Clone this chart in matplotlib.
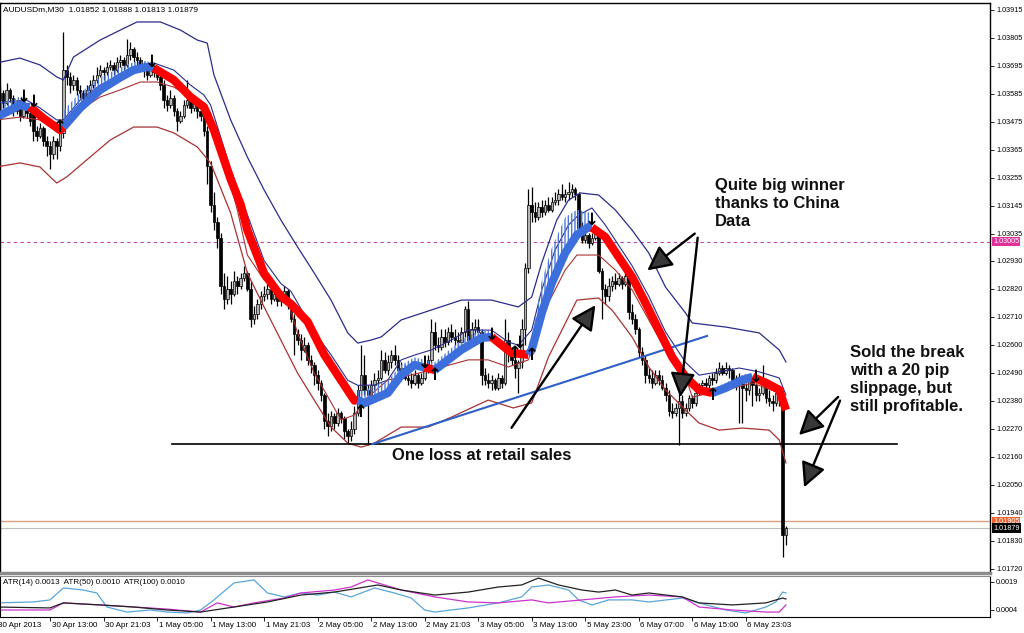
import numpy as np
import matplotlib.pyplot as plt
from matplotlib.transforms import blended_transform_factory

plt.rcParams['font.family'] = ['Liberation Sans', 'DejaVu Sans']
plt.rcParams['hatch.linewidth'] = 1.0

# AUDUSDm M30 candles, prices in points above 1.00000 (3560 -> 1.03560)
opens = [3540, 3560, 3590, 3550, 3600, 3570, 3520, 3545, 3500, 3530,
         3510, 3530, 3440, 3420, 3450, 3400, 3380, 3350, 3400, 3380,
         3430, 3680, 3650, 3620, 3640, 3600, 3590, 3570, 3600, 3620,
         3640, 3660, 3680, 3670, 3690, 3700, 3680, 3710, 3720, 3700,
         3740, 3760, 3730, 3720, 3700, 3680, 3660, 3690, 3670, 3650,
         3620, 3560, 3540, 3570, 3520, 3480, 3500, 3540, 3560, 3530,
         3550, 3520, 3500, 3440, 3300, 3150, 3080, 3020, 2830, 2780,
         2820, 2800, 2850, 2830, 2860, 2880, 2820, 2700, 2720, 2760,
         2790, 2800, 2820, 2780, 2800, 2770, 2790, 2810, 2760, 2700,
         2640, 2620, 2580, 2600, 2540, 2520, 2480, 2450, 2400, 2300,
         2280, 2320, 2290, 2330, 2310, 2260, 2240, 2270, 2330, 2420,
         2480, 2420, 2400, 2440, 2460, 2470, 2540, 2500, 2530, 2560,
         2540, 2500, 2510, 2470, 2460, 2450, 2480, 2450, 2470, 2500,
         2540, 2650, 2600, 2590, 2630, 2610, 2650, 2630, 2620, 2610,
         2650, 2740, 2620, 2660, 2670, 2650, 2480, 2460, 2450, 2460,
         2430, 2470, 2450, 2620, 2570, 2540, 2510, 2530, 2660, 2900,
         3150, 3120, 3100, 3140, 3120, 3150, 3130, 3160, 3170, 3190,
         3180, 3190, 3200, 3210, 3190, 3060, 3010, 3030, 3000, 3020,
         3050, 2890, 2820, 2790, 2830, 2850, 2840, 2860, 2840, 2870,
         2730, 2700, 2660, 2570, 2540, 2480, 2470, 2450, 2480, 2460,
         2430, 2400, 2340, 2330, 2350, 2380, 2330, 2350, 2390, 2370,
         2410, 2440, 2450, 2440, 2470, 2460, 2490, 2510, 2490, 2510,
         2500, 2460, 2450, 2470, 2430, 2420, 2460, 2440, 2400, 2410,
         2440, 2390, 2380, 2370, 2410, 2390, 1852]
highs = [3600, 3620, 3600, 3630, 3610, 3580, 3560, 3555, 3550, 3540,
         3520, 3545, 3460, 3470, 3460, 3420, 3400, 3420, 3410, 3460,
         3830, 3700, 3670, 3660, 3650, 3620, 3600, 3620, 3640, 3660,
         3690, 3700, 3690, 3710, 3720, 3710, 3730, 3740, 3730, 3800,
         3790, 3770, 3750, 3730, 3710, 3700, 3710, 3700, 3690, 3660,
         3640, 3580, 3600, 3580, 3530, 3520, 3560, 3640, 3580, 3580,
         3570, 3540, 3510, 3460, 3320, 3200, 3100, 3040, 2880, 2870,
         2850, 2890, 2870, 2880, 2910, 2890, 2850, 2750, 2780, 2810,
         2830, 2840, 2850, 2820, 2810, 2810, 2830, 2820, 2770, 2720,
         2660, 2640, 2630, 2610, 2560, 2530, 2500, 2460, 2410, 2330,
         2340, 2330, 2350, 2340, 2320, 2270, 2300, 2360, 2440, 2600,
         2560, 2440, 2460, 2490, 2500, 2580, 2570, 2560, 2580, 2600,
         2560, 2530, 2520, 2500, 2490, 2500, 2490, 2490, 2520, 2560,
         2700, 2690, 2630, 2660, 2660, 2670, 2680, 2660, 2650, 2670,
         2750, 2770, 2690, 2700, 2700, 2660, 2510, 2490, 2480, 2470,
         2490, 2480, 2700, 2650, 2590, 2560, 2540, 2700, 2920, 3210,
         3220, 3160, 3160, 3170, 3170, 3180, 3180, 3200, 3210, 3230,
         3210, 3240, 3230, 3220, 3200, 3080, 3050, 3040, 3040, 3070,
         3060, 2900, 2840, 2860, 2870, 2880, 2880, 2870, 2890, 2880,
         2760, 2720, 2670, 2590, 2560, 2510, 2500, 2500, 2500, 2480,
         2450, 2420, 2370, 2370, 2410, 2400, 2370, 2400, 2400, 2420,
         2450, 2460, 2470, 2480, 2490, 2510, 2530, 2520, 2530, 2520,
         2510, 2480, 2490, 2480, 2450, 2480, 2470, 2450, 2430, 2520,
         2450, 2420, 2400, 2420, 2420, 2400, 1888]
lows = [3520, 3550, 3530, 3540, 3555, 3500, 3505, 3480, 3490, 3490,
        3460, 3400, 3400, 3410, 3380, 3340, 3290, 3330, 3330, 3360,
        3410, 3620, 3590, 3600, 3580, 3570, 3550, 3560, 3590, 3610,
        3630, 3650, 3640, 3660, 3680, 3660, 3670, 3690, 3680, 3690,
        3720, 3710, 3700, 3680, 3650, 3640, 3650, 3650, 3640, 3600,
        3530, 3520, 3530, 3500, 3440, 3470, 3490, 3530, 3510, 3520,
        3490, 3480, 3420, 3230, 3120, 3050, 2980, 2800, 2740, 2760,
        2760, 2790, 2800, 2820, 2850, 2810, 2670, 2680, 2700, 2740,
        2770, 2780, 2760, 2770, 2750, 2750, 2780, 2740, 2690, 2560,
        2600, 2540, 2570, 2520, 2490, 2440, 2420, 2380, 2270, 2240,
        2260, 2270, 2280, 2290, 2230, 2215, 2220, 2250, 2320, 2400,
        2400, 2205, 2380, 2420, 2440, 2460, 2490, 2480, 2510, 2520,
        2480, 2470, 2460, 2440, 2430, 2440, 2430, 2440, 2460, 2490,
        2530, 2580, 2570, 2580, 2590, 2600, 2610, 2600, 2590, 2600,
        2630, 2600, 2610, 2640, 2630, 2440, 2440, 2430, 2420, 2420,
        2420, 2430, 2440, 2530, 2520, 2470, 2410, 2510, 2600, 2880,
        3080, 3080, 3090, 3100, 3110, 3120, 3120, 3150, 3150, 3170,
        3160, 3170, 3180, 3170, 3040, 3000, 3000, 2980, 2990, 3010,
        2880, 2700, 2760, 2770, 2810, 2820, 2830, 2820, 2830, 2700,
        2680, 2640, 2550, 2520, 2450, 2450, 2430, 2440, 2440, 2420,
        2380, 2320, 2310, 2320, 2205, 2310, 2320, 2340, 2350, 2360,
        2400, 2420, 2420, 2430, 2440, 2450, 2480, 2480, 2480, 2470,
        2450, 2420, 2290, 2290, 2380, 2400, 2360, 2380, 2380, 2400,
        2370, 2360, 2340, 2360, 2360, 1765, 1813]
closes = [3560, 3590, 3550, 3600, 3570, 3520, 3545, 3500, 3530, 3510,
          3480, 3440, 3420, 3450, 3400, 3380, 3350, 3400, 3380, 3430,
          3680, 3650, 3620, 3640, 3600, 3590, 3570, 3600, 3620, 3640,
          3660, 3680, 3670, 3690, 3700, 3680, 3710, 3720, 3700, 3740,
          3760, 3730, 3720, 3700, 3680, 3660, 3690, 3670, 3650, 3620,
          3560, 3540, 3570, 3520, 3480, 3500, 3540, 3560, 3530, 3550,
          3520, 3500, 3440, 3300, 3150, 3080, 3020, 2830, 2780, 2820,
          2800, 2850, 2830, 2860, 2880, 2820, 2700, 2720, 2760, 2790,
          2800, 2820, 2780, 2800, 2770, 2790, 2810, 2760, 2700, 2640,
          2620, 2580, 2600, 2540, 2520, 2480, 2450, 2400, 2300, 2280,
          2320, 2290, 2330, 2310, 2260, 2240, 2270, 2330, 2420, 2480,
          2420, 2400, 2440, 2460, 2470, 2540, 2500, 2530, 2560, 2540,
          2500, 2510, 2470, 2460, 2450, 2480, 2450, 2470, 2500, 2540,
          2650, 2600, 2590, 2630, 2610, 2650, 2630, 2620, 2610, 2650,
          2740, 2620, 2660, 2670, 2650, 2480, 2460, 2450, 2460, 2430,
          2470, 2450, 2620, 2570, 2540, 2510, 2530, 2660, 2900, 3150,
          3120, 3100, 3140, 3120, 3150, 3130, 3160, 3170, 3190, 3180,
          3190, 3200, 3210, 3190, 3060, 3010, 3030, 3000, 3020, 3040,
          2890, 2820, 2790, 2830, 2850, 2840, 2860, 2840, 2870, 2730,
          2700, 2660, 2570, 2540, 2480, 2470, 2450, 2480, 2460, 2430,
          2400, 2340, 2330, 2350, 2380, 2330, 2350, 2390, 2370, 2410,
          2440, 2450, 2440, 2470, 2460, 2490, 2510, 2490, 2510, 2500,
          2460, 2450, 2470, 2430, 2420, 2460, 2440, 2400, 2410, 2440,
          2390, 2380, 2370, 2410, 2390, 1852, 1879]

# envelope / band lines (bar index, points)
upper_bars = [0, 7, 13, 18, 20, 23, 31, 37, 42, 49, 55, 60, 63, 65, 70, 75, 80, 85, 90, 95,
              100, 105, 108, 112, 115, 121, 130, 139, 148, 156, 160, 163, 167.5, 171, 174.5,
              180, 185, 190, 195, 200, 206, 208, 218, 228, 234, 236]
upper = [3707, 3726, 3699, 3652, 3640, 3730, 3797, 3836, 3868, 3868, 3836, 3797, 3785, 3660,
         3483, 3337, 3208, 3090, 2984, 2881, 2775, 2646, 2606, 2618, 2630, 2697, 2736, 2775,
         2775, 2748, 2787, 2921, 3090, 3168, 3196, 3188, 3129, 3050, 2960, 2826, 2724, 2685,
         2669, 2646, 2579, 2532]
in_up_bars = [0, 9, 13, 18, 20, 25, 31, 37, 43, 47, 53, 58, 62, 64, 70, 75, 80, 85, 88, 95,
              100, 105, 108, 113, 117, 121, 125, 130, 136, 141, 148, 153, 156, 160, 163, 167,
              171, 174, 178, 182, 186, 190, 195, 200, 206, 210, 216, 222, 228, 234, 236]
in_up = [3550, 3561, 3530, 3483, 3483, 3561, 3620, 3660, 3699, 3707, 3679, 3620, 3581, 3542,
         3290, 3110, 2930, 2840, 2810, 2650, 2560, 2460, 2440, 2441, 2461, 2540, 2559, 2579,
         2618, 2657, 2657, 2610, 2598, 2657, 2815, 2972, 3070, 3109, 3137, 3070, 2990, 2910,
         2790, 2650, 2530, 2480, 2493, 2508, 2493, 2469, 2402]
lo_in_bars = [0, 7, 13, 18, 21, 25, 31, 37, 43, 48, 53, 58, 62, 64, 68, 72, 75, 80, 87, 90,
              95, 103, 107, 110, 117, 124, 130, 141, 147, 153, 159, 165, 170, 173.5, 180, 185,
              190, 195, 200, 206, 208, 218, 226, 234, 236]
lo_in = [3483, 3494, 3483, 3443, 3483, 3522, 3573, 3601, 3632, 3632, 3612, 3573, 3550, 3510,
         3326, 3129, 2952, 2854, 2775, 2646, 2488, 2304, 2323, 2382, 2461, 2481, 2500, 2540,
         2540, 2512, 2540, 2764, 2893, 2952, 2952, 2893, 2815, 2697, 2579, 2473, 2394, 2422,
         2449, 2410, 2355]
lo_out_bars = [0, 7, 13, 17, 18, 21, 27, 34, 41, 48, 53, 60, 64, 70, 75, 80, 85, 90, 95, 100,
               105, 109, 113, 121, 129, 136, 147, 154.5, 160, 165, 173.5, 180, 184, 190, 195,
               200, 206, 210, 216, 223, 231, 234, 236]
lo_out = [3298, 3314, 3298, 3247, 3235, 3259, 3326, 3404, 3455, 3455, 3432, 3377, 3314, 3117,
          2881, 2748, 2618, 2488, 2382, 2276, 2213, 2197, 2213, 2276, 2276, 2315, 2382, 2351,
          2371, 2551, 2775, 2783, 2736, 2630, 2512, 2422, 2343, 2292, 2264, 2272, 2264, 2225,
          2135]

# thick trend MA and its histogram top
ma_bars = [0, 4, 7, 9, 10, 14, 19, 20, 25, 31, 37, 41, 45, 47, 53, 58, 62, 65, 70, 73,
           75, 80, 85, 88, 93, 98, 103, 107, 108, 110, 117, 121, 125, 128, 131, 139, 145, 148,
           154, 159, 160, 163, 166, 170, 173.5, 177, 178, 182, 186, 190, 194, 198, 202, 206,
           210, 214, 218, 222, 224, 226, 230, 234, 236]
ma = [3494, 3520, 3542, 3534, 3534, 3490, 3443, 3455, 3530, 3601, 3650, 3679, 3691, 3687,
      3640, 3573, 3534, 3443, 3250, 3150, 3050, 2880, 2790, 2760, 2690, 2560, 2460, 2380,
      2382, 2370, 2410, 2480, 2520, 2510, 2500, 2580, 2626, 2630, 2567, 2560, 2580, 2724,
      2842, 2960, 3031, 3062, 3060, 3023, 2944, 2866, 2764, 2657, 2551, 2473, 2422, 2410,
      2430, 2455, 2465, 2473, 2450, 2422, 2343]
nan = np.nan
hist_top = [3550, 3560, 3575, 3570, nan, nan, nan, 3520, 3590, 3650,
            3690, 3710, 3715, 3700, nan, nan, nan, nan, nan, nan,
            nan, nan, nan, nan, nan, nan, nan, nan, 2420, 2420,
            2460, 2520, 2550, 2540, 2530, 2620, 2660, 2650, nan, 2590,
            2620, 2850, 2980, 3100, 3130, 3120, 3100, nan, nan, nan,
            nan, nan, nan, nan, nan, 2425, 2450, 2475, 2485, 2480,
            nan, nan, nan]
trend_flips = [10, 20, 47, 108, 128, 131, 148, 159, 178, 214, 226]  # starts rising

# signal arrows
sig_bars = [8, 11, 19, 46.5, 109, 128, 131, 148, 155, 156.5, 160, 178, 214, 227]
sig_prices = [3573, 3553, 3455, 3711, 2335, 2528, 2481, 2638, 2567, 2606, 2559, 3090, 2402, 2473]
sig_dirs = ['d', 'd', 'u', 'd', 'u', 'd', 'u', 'd', 'u', 'd', 'u', 'd', 'u', 'd']

# ATR values (x 0.0001)
atr14_bars = [0, 11, 16, 20, 26, 30, 33, 39, 46, 51, 57, 61, 65, 71, 77, 81, 86, 91, 96, 101,
              106, 113, 119, 124, 128, 131, 141, 150, 157, 160, 165, 171, 174, 178, 183, 190,
              195, 205, 210, 218, 224, 230, 233, 235, 236]
atr14 = [7.8, 8.3, 9.4, 15.8, 14.7, 13.1, 5.6, 2.9, 4.0, 2.9, 2.4, 4.0, 9.4, 18.5, 20.1, 13.1,
         11.0, 13.1, 12.0, 13.6, 11.0, 15.8, 13.1, 10.4, 4.0, 2.9, 5.1, 7.8, 11.0, 16.3, 17.4,
         14.7, 9.4, 6.7, 9.4, 9.4, 8.3, 10.4, 7.8, 4.0, 2.4, 5.6, 8.3, 13.6, 13.1]
atr50_bars = [0, 16, 20, 31, 41, 51, 61, 66, 71, 77, 86, 91, 101, 106, 111, 116, 121, 131, 141,
              150, 160, 165, 175, 185, 195, 205, 210, 220, 230, 234, 236]
atr50 = [4.0, 4.0, 7.8, 6.7, 5.6, 4.5, 2.9, 7.8, 5.6, 7.8, 10.4, 13.1, 14.7, 16.3, 20.1, 17.4,
         14.7, 11.0, 8.3, 7.8, 9.4, 7.8, 9.4, 11.0, 12.0, 11.0, 5.6, 4.0, 2.9, 2.9, 6.7]
atr100_bars = [0, 16, 20, 31, 41, 51, 61, 71, 81, 91, 101, 114, 121, 131, 141, 150, 157, 162,
               168, 175, 180, 185, 190, 195, 205, 210, 220, 230, 235, 236]
atr100 = [5.6, 5.1, 7.8, 6.7, 5.6, 4.0, 2.9, 5.6, 8.3, 12.0, 13.6, 17.4, 14.7, 12.0, 13.6, 16.3,
          17.4, 21.1, 17.4, 14.7, 13.6, 14.7, 12.0, 13.1, 11.0, 7.8, 6.7, 7.8, 10.4, 9.9]

time_ticks = [0, 16, 32, 48, 64, 80, 96, 112, 128, 144, 160, 176, 192, 208, 224]
time_labels = ['30 Apr 2013', '30 Apr 13:00', '30 Apr 21:03', '1 May 05:00', '1 May 13:00',
               '1 May 21:03', '2 May 05:00', '2 May 13:00', '2 May 21:03', '3 May 05:00',
               '3 May 13:00', '5 May 23:00', '6 May 07:00', '6 May 15:00', '6 May 23:03']
price_ticks = [1.03915, 1.03805, 1.03695, 1.03585, 1.03475, 1.03365, 1.03255, 1.03145, 1.03035,
               1.02930, 1.02820, 1.02710, 1.02600, 1.02490, 1.02380, 1.02270, 1.02160, 1.02050,
               1.01940, 1.01830, 1.01720]


def pr(p):
    return 1 + np.asarray(p, dtype=float) / 1e5


fig = plt.figure(figsize=(10.24, 6.33), dpi=100)
ax = fig.add_axes([0, 1 - 573 / 633, 990 / 1024, 570 / 633])
axa = fig.add_axes([0, 1 - 617 / 633, 990 / 1024, 41 / 633])

o, h, l, c = pr(opens), pr(highs), pr(lows), pr(closes)
x = np.arange(len(c))
ax.vlines(x, l, h, color='black', lw=0.9, zorder=2)
up = c >= o
ax.bar(x[up], (c - o)[up], bottom=o[up], width=0.75, color='#b4b4b4',
       edgecolor='black', lw=0.5, zorder=2)
ax.bar(x[~up], (o - c)[~up], bottom=c[~up], width=0.75, color='black',
       edgecolor='black', lw=0.5, zorder=2)

# bands
ax.plot(upper_bars, pr(upper), color='#2b2b8c', lw=0.9, zorder=3)
ax.plot(in_up_bars, pr(in_up), color='#2b2b8c', lw=0.8, zorder=3)
ax.plot(lo_in_bars, pr(lo_in), color='#a83232', lw=0.8, zorder=3)
ax.plot(lo_out_bars, pr(lo_out), color='#a83232', lw=0.9, zorder=3)

# histogram hatch and trend MA
mb = np.array(ma_bars, dtype=float)
mv = pr(ma)
ht = pr(hist_top)
ok = ~np.isnan(ht)
ax.fill_between(mb, mv, ht, where=ok, facecolor='none', edgecolor='#4f7ad8',
                lw=0, hatch='|||||', zorder=3)
bounds = [0] + trend_flips + [236]
for k in range(len(bounds) - 1):
    m = (mb >= bounds[k]) & (mb <= bounds[k + 1])
    col = '#3d6fdc' if k % 2 == 0 else '#ff0000'
    ax.plot(mb[m], mv[m], color=col, lw=6, solid_capstyle='butt', zorder=4)

for b, p, d in zip(sig_bars, sig_prices, sig_dirs):
    ax.text(b, pr(p), '↓' if d == 'd' else '↑', ha='center', va='center',
            fontsize=12, fontweight='bold', family='DejaVu Sans', zorder=5)

# support / trend lines and price lines
ax.plot([52.5, 269.2], pr([2210, 2210]), color='black', lw=1.2, zorder=3)
ax.plot([112.3, 212.4], pr([2209, 2634]), color='#2f5fc8', lw=1.5, zorder=3)
ax.axhline(1.03005, color='#c040b0', lw=0.8, ls=(0, (3, 3)), zorder=1)
ax.axhline(1.01905, color='#d9a27e', lw=1.0, zorder=1)
ax.axhline(1.01879, color='#bdbdbd', lw=0.8, zorder=1)

# annotations
arrows = [(153.5, 2264, 179.5, 2764), (209.4, 3043, 193.9, 2885), (209.7, 3031, 204.3, 2382),
          (252.2, 2402, 239.3, 2237), (252.5, 2390, 241.1, 2029)]
for x0, p0, x1, p1 in arrows:
    ax.annotate('', xy=(x1, pr(p1)), xytext=(x0, pr(p0)),
                arrowprops=dict(arrowstyle='-|>,head_length=0.75,head_width=0.38',
                                mutation_scale=20, lw=1.7, ec='black', fc='#383838'),
                zorder=6)
tfont = dict(fontsize=12, fontweight='bold', color='#111111', zorder=6, linespacing=1.25)
ax.text(214.8, pr(3255), 'Quite big winner\nthanks to China\nData', ha='left', va='top', **tfont)
ax.text(145.1, pr(2166), 'One loss at retail sales', ha='center', va='center', **tfont)
ax.text(255.2, pr(2600), 'Sold the break\nwith a 20 pip\nslippage, but\nstill profitable.',
        ha='left', va='top', **tfont)
ax.text(0.003, 0.995, 'AUDUSDm,M30  1.01852 1.01888 1.01813 1.01879', transform=ax.transAxes,
        fontsize=6, va='top', ha='left')

# axes styling
ax.set_xlim(1.05, 297.0)
ax.set_ylim(1.017024, 1.039425)
ax.yaxis.tick_right()
ax.set_yticks(price_ticks)
ax.set_yticklabels(['%.5f' % v for v in price_ticks])
ax.tick_params(axis='y', direction='out', length=3, width=0.6, labelsize=5.2, pad=1.5)
ax.set_xticks([])
for s in ['top', 'right', 'left']:
    ax.spines[s].set_color('black')
    ax.spines[s].set_linewidth(1)
ax.spines['bottom'].set_color('#8c8c8c')
ax.spines['bottom'].set_linewidth(2.5)

trans = blended_transform_factory(ax.transAxes, ax.transData)
for val, txt, fc in [(1.03005, '1.03005', '#e0309a'), (1.01905, '1.01905', '#f0622e'),
                     (1.01879, '1.01879', 'black')]:
    ax.text(1.003, val, txt, transform=trans, fontsize=5.2, color='white', ha='left',
            va='center', clip_on=False,
            bbox=dict(boxstyle='square,pad=0.15', fc=fc, ec='none'))

axa.plot(atr14_bars, np.array(atr14) * 1e-4, color='#5aa5d8', lw=0.9)
axa.plot(atr50_bars, np.array(atr50) * 1e-4, color='#cc33cc', lw=0.9)
axa.plot(atr100_bars, np.array(atr100) * 1e-4, color='#222222', lw=0.9)
axa.set_xlim(1.05, 297.0)
axa.set_ylim(0.25e-4, 22.2e-4)
axa.yaxis.tick_right()
axa.set_yticks([0.0019, 0.0004])
axa.set_yticklabels(['0.0019', '0.0004'])
axa.tick_params(axis='y', direction='out', length=3, width=0.6, labelsize=5.2, pad=1.5)
axa.set_xticks(time_ticks[1:])
axa.set_xticklabels([])
axa.tick_params(axis='x', direction='out', length=3, width=0.6)
for b, t in zip(time_ticks, time_labels):
    axa.text(b + 0.5, -0.12, t, transform=blended_transform_factory(axa.transData, axa.transAxes),
             fontsize=5.8, ha='left', va='top', clip_on=False)
axa.text(0.003, 0.83, 'ATR(14) 0.0013  ATR(50) 0.0010  ATR(100) 0.0010', transform=axa.transAxes,
         fontsize=5.8, va='center', ha='left')
for s in axa.spines.values():
    s.set_linewidth(0.8)
axa.spines['top'].set_color('#8c8c8c')

fig.savefig('out.png', dpi=100)
